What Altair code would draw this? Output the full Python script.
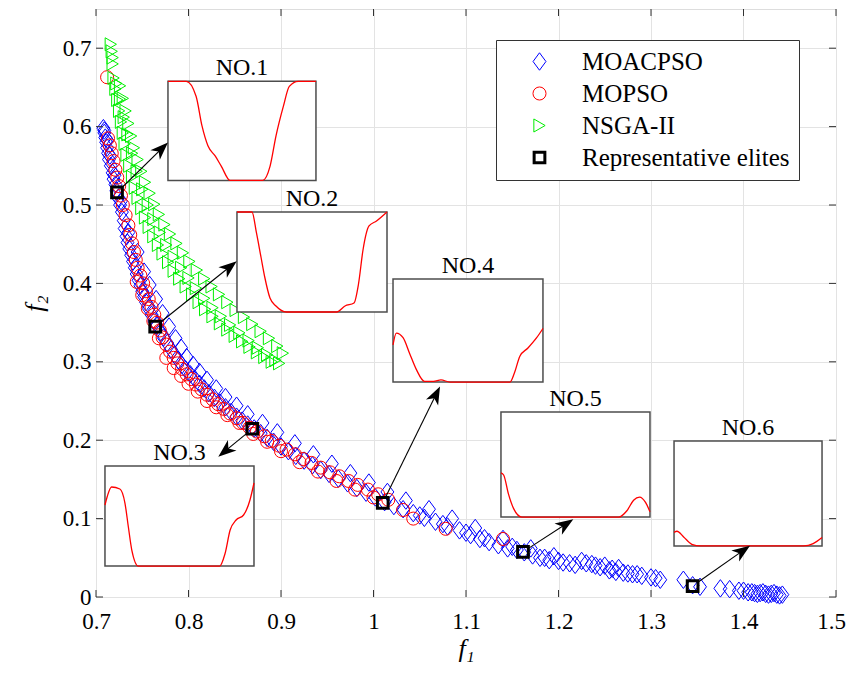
import math
import altair as alt
import pandas as pd

# ---------------- axes ----------------
X_DOMAIN = [0.7, 1.5]
Y_DOMAIN = [0.0, 0.75]
X_TICKS = [0.7, 0.8, 0.9, 1.0, 1.1, 1.2, 1.3, 1.4, 1.5]
Y_TICKS = [0.0, 0.1, 0.2, 0.3, 0.4, 0.5, 0.6, 0.7]
W, H = 740, 588
FONT = "Liberation Serif"

SERIES = ["MOACPSO", "MOPSO", "NSGA-II", "Representative elites"]
COLORS = ["#0000ff", "#ff0000", "#00ee00", "#000000"]

# ---------------- data ----------------
moacpso_x = [0.708, 0.709, 0.710, 0.711, 0.712, 0.713, 0.714, 0.716, 0.718, 0.719, 0.721, 0.722, 0.724, 0.726,
             0.728, 0.730, 0.731, 0.733, 0.734, 0.736, 0.738, 0.740, 0.742, 0.744, 0.746, 0.748, 0.750, 0.752,
             0.754, 0.757, 0.760, 0.763, 0.766, 0.770, 0.773, 0.777, 0.781, 0.785, 0.789, 0.793, 0.797, 0.802,
             0.807, 0.812, 0.817, 0.822, 0.828, 0.834, 0.840, 0.846, 0.852, 0.858, 0.864, 0.871, 0.878, 0.885,
             0.892, 0.900, 0.908, 0.916, 0.925, 0.934, 0.943, 0.952, 0.962, 0.972, 0.982, 0.992, 1.002, 1.012,
             1.022, 1.032, 1.043, 1.055, 1.067, 1.080, 1.093, 1.105, 1.115, 1.125, 1.135, 1.145, 1.155, 1.163,
             1.172, 1.180, 1.190, 1.205, 1.212, 1.230, 1.236, 1.245, 1.255, 1.262, 1.270, 1.280, 1.290, 1.300,
             1.310, 1.335, 1.345, 1.353, 1.375, 1.385, 1.395, 1.405, 1.412, 1.418, 1.424, 1.430, 1.436, 1.442,
             0.745, 0.752, 0.758, 0.765, 0.772, 0.779, 0.786, 0.792, 0.798, 0.805, 0.812, 0.820, 0.830, 0.840,
             0.852, 0.864, 0.880, 0.896, 0.915, 0.935, 0.955, 0.975, 0.995, 1.015, 1.035, 1.060, 1.085, 1.110,
             1.140, 1.170, 1.195, 1.225, 1.250, 1.265,
             0.709, 0.712, 0.715, 0.720, 0.727, 0.735, 1.050, 1.075, 1.100, 1.120, 1.150, 1.185, 1.200, 1.218,
             1.240, 1.258, 1.275, 1.285, 1.305, 1.400, 1.409, 1.415, 1.421, 1.427, 1.433, 1.439]
moacpso_y = [0.598, 0.592, 0.586, 0.580, 0.573, 0.566, 0.558, 0.550, 0.541, 0.533, 0.526, 0.518, 0.509, 0.500,
             0.491, 0.480, 0.470, 0.460, 0.452, 0.444, 0.436, 0.428, 0.420, 0.412, 0.404, 0.397, 0.390, 0.383,
             0.376, 0.368, 0.360, 0.352, 0.346, 0.338, 0.331, 0.324, 0.316, 0.309, 0.302, 0.296, 0.290, 0.284,
             0.278, 0.272, 0.266, 0.260, 0.254, 0.248, 0.242, 0.236, 0.230, 0.225, 0.220, 0.215, 0.209, 0.203,
             0.198, 0.192, 0.186, 0.180, 0.174, 0.168, 0.162, 0.157, 0.151, 0.145, 0.139, 0.133, 0.127, 0.121,
             0.116, 0.112, 0.107, 0.101, 0.096, 0.090, 0.085, 0.079, 0.074, 0.070, 0.066, 0.062, 0.060, 0.057,
             0.053, 0.050, 0.047, 0.044, 0.043, 0.043, 0.042, 0.038, 0.034, 0.032, 0.031, 0.029, 0.027, 0.025,
             0.022, 0.022, 0.015, 0.013, 0.011, 0.010, 0.008, 0.006, 0.005, 0.005, 0.004, 0.004, 0.003, 0.003,
             0.440, 0.415, 0.398, 0.380, 0.362, 0.345, 0.330, 0.318, 0.306, 0.296, 0.287, 0.277, 0.266, 0.255,
             0.244, 0.233, 0.222, 0.210, 0.196, 0.182, 0.170, 0.158, 0.146, 0.134, 0.123, 0.112, 0.100, 0.088,
             0.074, 0.062, 0.052, 0.046, 0.040, 0.037,
             0.595, 0.583, 0.563, 0.538, 0.505, 0.465, 0.104, 0.093, 0.082, 0.075, 0.064, 0.050, 0.046, 0.041,
             0.040, 0.036, 0.030, 0.029, 0.024, 0.008, 0.006, 0.004, 0.006, 0.003, 0.005, 0.002]

mopso_x = [0.712, 0.713, 0.715, 0.717, 0.719, 0.721, 0.723, 0.725, 0.727, 0.729, 0.732, 0.735, 0.737, 0.739,
           0.741, 0.743, 0.745, 0.748, 0.751, 0.754, 0.757, 0.760, 0.763, 0.766, 0.769, 0.772, 0.776, 0.780,
           0.784, 0.788, 0.793, 0.798, 0.803, 0.808, 0.814, 0.820, 0.826, 0.832, 0.838, 0.845, 0.852, 0.859,
           0.866, 0.874, 0.882, 0.890, 0.898, 0.906, 0.915, 0.924, 0.933, 0.943, 0.953, 0.963, 0.973, 0.983,
           0.994, 1.005, 1.016, 1.032, 1.043, 1.078, 1.140,
           0.744, 0.750, 0.756, 0.762, 0.768, 0.776, 0.784, 0.792, 0.800, 0.810, 0.820, 0.830, 0.842, 0.855,
           0.870, 0.885, 0.900, 0.920, 0.940, 0.960, 0.980, 1.000]
mopso_y = [0.663, 0.585, 0.576, 0.566, 0.556, 0.545, 0.535, 0.524, 0.512, 0.500, 0.487, 0.474, 0.462, 0.451,
           0.440, 0.430, 0.420, 0.410, 0.400, 0.390, 0.380, 0.370, 0.360, 0.350, 0.340, 0.331, 0.322, 0.313,
           0.305, 0.298, 0.291, 0.284, 0.278, 0.271, 0.265, 0.258, 0.252, 0.246, 0.240, 0.234, 0.228, 0.222,
           0.216, 0.211, 0.205, 0.199, 0.193, 0.188, 0.182, 0.176, 0.171, 0.165, 0.159, 0.154, 0.148, 0.143,
           0.137, 0.131, 0.124, 0.111, 0.100, 0.087, 0.074,
           0.402, 0.385, 0.368, 0.352, 0.330, 0.305, 0.292, 0.282, 0.272, 0.262, 0.250, 0.242, 0.232, 0.222,
           0.208, 0.198, 0.186, 0.172, 0.160, 0.148, 0.137, 0.127]

nsga_x = [0.716, 0.717, 0.718, 0.718,
          0.719, 0.721, 0.723, 0.725, 0.727, 0.729, 0.731, 0.733, 0.736, 0.739, 0.742, 0.745, 0.749, 0.753,
          0.757, 0.762, 0.767, 0.772, 0.778, 0.784, 0.790, 0.797, 0.804, 0.811, 0.818, 0.826, 0.834, 0.842,
          0.850, 0.858, 0.866, 0.874, 0.882, 0.890, 0.898,
          0.726, 0.729, 0.732, 0.735, 0.738, 0.741, 0.745, 0.749, 0.753, 0.758, 0.763, 0.768, 0.774, 0.780,
          0.787, 0.794, 0.801, 0.809, 0.817, 0.825, 0.833, 0.842, 0.851, 0.860, 0.869, 0.878, 0.887, 0.896,
          0.902,
          0.722, 0.726, 0.730, 0.734, 0.739, 0.744, 0.750, 0.756, 0.762, 0.769, 0.776, 0.784, 0.792, 0.800,
          0.808, 0.817, 0.826, 0.835, 0.845, 0.855, 0.865, 0.875, 0.885, 0.894]
nsga_y = [0.705, 0.696, 0.688, 0.680,
          0.662, 0.648, 0.634, 0.620, 0.606, 0.592, 0.578, 0.564, 0.550, 0.536, 0.522, 0.509, 0.496, 0.484,
          0.472, 0.460, 0.449, 0.438, 0.427, 0.416, 0.406, 0.396, 0.386, 0.376, 0.367, 0.358, 0.349, 0.341,
          0.333, 0.326, 0.319, 0.312, 0.306, 0.300, 0.298,
          0.652, 0.636, 0.620, 0.604, 0.588, 0.573, 0.558, 0.543, 0.529, 0.515, 0.501, 0.488, 0.475, 0.463,
          0.451, 0.439, 0.428, 0.417, 0.406, 0.396, 0.386, 0.376, 0.366, 0.357, 0.348, 0.339, 0.330, 0.320,
          0.311,
          0.655, 0.635, 0.612, 0.590, 0.566, 0.543, 0.520, 0.500, 0.482, 0.465, 0.449, 0.434, 0.420, 0.407,
          0.394, 0.381, 0.369, 0.358, 0.347, 0.337, 0.327, 0.318, 0.309, 0.302]

elite_x = [0.7227, 0.764, 0.869, 1.010, 1.1616, 1.345]
elite_y = [0.516, 0.345, 0.2146, 0.120, 0.0575, 0.014]

# inset boxes (data coordinates) and arrow tips
inset_names = ["NO.1", "NO.2", "NO.3", "NO.4", "NO.5", "NO.6"]
inset_x0 = [0.7778, 0.8524, 0.7097, 1.0211, 1.1378, 1.3249]
inset_x1 = [0.9378, 1.0146, 0.8708, 1.1832, 1.2989, 1.4849]
inset_y0 = [0.5313, 0.3635, 0.0395, 0.2742, 0.1020, 0.0651]
inset_y1 = [0.6577, 0.4911, 0.1671, 0.4056, 0.2360, 0.1990]
arrow_tip_x = [0.7778, 0.8521, 0.8322, 1.0719, 1.2160, 1.4070]
arrow_tip_y = [0.5798, 0.4282, 0.1790, 0.2686, 0.0991, 0.0655]

# inset profile curves (normalised within each box)
profile_u = {
    "NO.1": [0, 0.124, 0.19, 0.23, 0.27, 0.32, 0.36, 0.42, 0.64, 0.69, 0.73, 0.78, 0.82, 0.88, 1.0],
    "NO.2": [0, 0.10, 0.13, 0.16, 0.185, 0.22, 0.26, 0.33, 0.665, 0.72, 0.78, 0.81, 0.84, 0.88, 0.93, 1.0],
    "NO.3": [0, 0.045, 0.10, 0.134, 0.157, 0.18, 0.224, 0.77, 0.805, 0.84, 0.88, 0.93, 0.973, 1.0],
    "NO.4": [0, 0.022, 0.067, 0.11, 0.156, 0.21, 0.27, 0.32, 0.38, 0.78, 0.81, 0.846, 0.90, 0.958, 1.0],
    "NO.5": [0, 0.018, 0.05, 0.085, 0.14, 0.79, 0.845, 0.89, 0.93, 0.97, 1.0],
    "NO.6": [0, 0.02, 0.065, 0.12, 0.18, 0.876, 0.94, 1.0],
}
profile_v = {
    "NO.1": [1.0, 1.0, 0.85, 0.55, 0.35, 0.245, 0.145, 0.0, 0.0, 0.145, 0.45, 0.75, 0.95, 1.0, 1.0],
    "NO.2": [1.0, 1.0, 0.79, 0.55, 0.35, 0.14, 0.06, 0.0, 0.0, 0.06, 0.09, 0.28, 0.62, 0.86, 0.91, 1.0],
    "NO.3": [0.61, 0.79, 0.77, 0.63, 0.39, 0.16, 0.0, 0.0, 0.12, 0.36, 0.46, 0.51, 0.66, 0.83],
    "NO.4": [0.36, 0.475, 0.43, 0.28, 0.12, 0.006, 0.006, 0.02, 0.0, 0.0, 0.09, 0.25, 0.33, 0.43, 0.52],
    "NO.5": [0.42, 0.40, 0.22, 0.08, 0.0, 0.0, 0.06, 0.16, 0.19, 0.14, 0.05],
    "NO.6": [0.13, 0.14, 0.086, 0.016, 0.0, 0.0, 0.022, 0.08],
}

# ---------------- tables ----------------
pts = pd.concat([
    pd.DataFrame({"x": moacpso_x, "y": moacpso_y, "series": SERIES[0]}),
    pd.DataFrame({"x": mopso_x, "y": mopso_y, "series": SERIES[1]}),
    pd.DataFrame({"x": nsga_x, "y": nsga_y, "series": SERIES[2]}),
    pd.DataFrame({"x": elite_x, "y": elite_y, "series": SERIES[3]}),
], ignore_index=True)

boxes = pd.DataFrame({"name": inset_names, "x0": inset_x0, "x1": inset_x1,
                      "y0": inset_y0, "y1": inset_y1})
boxes["xc"] = (boxes["x0"] + boxes["x1"]) / 2

rows = []
for i, n in enumerate(inset_names):
    for k, (u, v) in enumerate(zip(profile_u[n], profile_v[n])):
        rows.append({"name": n, "k": k,
                     "x": inset_x0[i] + u * (inset_x1[i] - inset_x0[i]),
                     "y": inset_y0[i] + v * (inset_y1[i] - inset_y0[i])})
curves = pd.DataFrame(rows)

KX = W / (X_DOMAIN[1] - X_DOMAIN[0])
KY = H / (Y_DOMAIN[1] - Y_DOMAIN[0])
HEAD = 18  # arrowhead length (px)
arows = []
for ex, ey, tx, ty in zip(elite_x, elite_y, arrow_tip_x, arrow_tip_y):
    dxp, dyp = (tx - ex) * KX, -(ty - ey) * KY
    L = math.hypot(dxp, dyp)
    ux, uy = dxp / L, dyp / L
    sx, sy = ex + 6 * ux / KX, ey - 6 * uy / KY
    hx, hy = tx - (HEAD / 2) * ux / KX, ty + (HEAD / 2) * uy / KY
    lx, ly = tx - 6 * ux / KX, ty + 6 * uy / KY
    ang = math.degrees(math.atan2(dyp, dxp)) % 360
    arows.append({"sx": sx, "sy": sy, "lx": lx, "ly": ly, "hx": hx, "hy": hy, "ang": ang})
arrows = pd.DataFrame(arows)

xs = alt.Scale(domain=X_DOMAIN, nice=False, zero=False)
ys = alt.Scale(domain=Y_DOMAIN, nice=False, zero=False)

AXX = alt.Axis(values=X_TICKS, format=".1~f", grid=True, ticks=False, domain=False,
               labelFont=FONT, labelFontSize=23, labelColor="black", labelPadding=13,
               labelOffset={"expr": "datum.value >= 1.45 ? -5 : 0"},
               titleFont=FONT, titleFontSize=26, titleFontStyle="italic",
               titleFontWeight="normal", titleColor="black", titlePadding=2,
               gridColor="#e3e3e3", labelFlush=False)
AXY = alt.Axis(values=Y_TICKS, format=".1~f", grid=True, ticks=False, domain=False,
               labelFont=FONT, labelFontSize=23, labelColor="black", labelPadding=5,
               titleFont=FONT, titleFontSize=26, titleFontStyle="italic",
               titleFontWeight="normal", titleColor="black", titlePadding=15,
               gridColor="#e3e3e3", labelFlush=False)


def X(field):
    return alt.X(field, scale=xs, title="f₁", axis=AXX)


def Y(field):
    return alt.Y(field, scale=ys, title="f₂", axis=AXY)


DIAMOND = "M0,-1.15L0.85,0L0,1.15L-0.85,0Z"
ARROWHEAD = "M1,0L-1,-0.75L-0.45,0L-1,0.75Z"

leg = alt.Legend(title=None, orient="none", legendX=400, legendY=31,
                 labelFont=FONT, labelFontSize=25, labelColor="black",
                 strokeColor="#333333", fillColor="white", padding=9,
                 symbolOffset=22, labelOffset=30, rowPadding=6, labelLimit=400)

points = alt.Chart(pts).mark_point(filled=False, opacity=1).encode(
    x=X("x:Q"), y=Y("y:Q"),
    color=alt.Color("series:N", scale=alt.Scale(domain=SERIES, range=COLORS), legend=leg),
    shape=alt.Shape("series:N", scale=alt.Scale(domain=SERIES,
                    range=[DIAMOND, "circle", "triangle-right", "square"]), legend=leg),
    size=alt.Size("series:N", scale=alt.Scale(type="ordinal", domain=SERIES, range=[230, 170, 170, 115]),
                  legend=leg),
    strokeWidth=alt.StrokeWidth("series:N", scale=alt.Scale(type="ordinal", domain=SERIES,
                                range=[1, 1, 1, 3]), legend=leg),
)

# inward tick marks on all four sides
xt = pd.DataFrame({"t": X_TICKS})
yt = pd.DataFrame({"t": Y_TICKS})
tick_style = dict(color="#333333", strokeWidth=1)
xb = alt.Chart(xt).mark_rule(**tick_style).encode(x=X("t:Q"), y=alt.value(H), y2=alt.value(H - 7))
xtp = alt.Chart(xt).mark_rule(**tick_style).encode(x=X("t:Q"), y=alt.value(0), y2=alt.value(7))
yl = alt.Chart(yt).mark_rule(**tick_style).encode(y=Y("t:Q"), x=alt.value(0), x2=alt.value(7))
yr = alt.Chart(yt).mark_rule(**tick_style).encode(y=Y("t:Q"), x=alt.value(W), x2=alt.value(W - 7))

rects = alt.Chart(boxes).mark_rect(fill="white", stroke="#4d4d4d", strokeWidth=1.5).encode(
    x=X("x0:Q"), x2="x1:Q", y=Y("y0:Q"), y2="y1:Q")

lines = alt.Chart(curves).mark_line(color="#ff0000", strokeWidth=1.3, interpolate="monotone").encode(
    x=X("x:Q"), y=Y("y:Q"), detail="name:N", order="k:Q")

titles = alt.Chart(boxes).mark_text(font=FONT, fontSize=24, color="black",
                                    baseline="bottom", dy=-1).encode(
    x=X("xc:Q"), y=Y("y1:Q"), text="name:N")

shafts = alt.Chart(arrows).mark_rule(color="black", strokeWidth=1.1).encode(
    x=X("sx:Q"), y=Y("sy:Q"), x2="lx:Q", y2="ly:Q")

heads = alt.Chart(arrows).mark_point(shape=ARROWHEAD, filled=True, color="black",
                                     size=HEAD * HEAD, opacity=1).encode(
    x=X("hx:Q"), y=Y("hy:Q"), angle=alt.Angle("ang:Q", scale=None))

chart = alt.layer(points, xb, xtp, yl, yr, rects, lines, titles, shafts, heads).properties(
    width=W, height=H,
    autosize=alt.AutoSizeParams(type="none"),
    padding={"left": 88, "top": 1, "right": 13, "bottom": 68},
).configure_view(stroke="#333333", strokeWidth=1.2).configure(background="white")

chart.save("out.html", embed_options={"renderer": "svg", "actions": False})
